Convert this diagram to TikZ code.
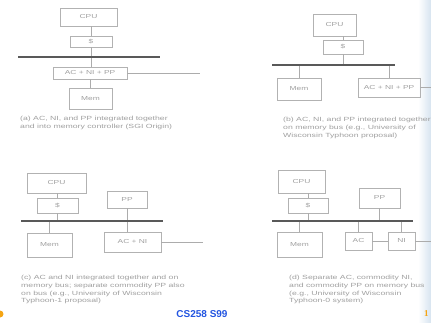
\documentclass[tikz,border=0pt]{standalone}
\usepackage{fontspec}
\setmainfont{Liberation Sans}
\newfontfamily\scanfont[FakeStretch=1.45]{Liberation Sans}
\newfontfamily\pagefont{Liberation Serif}
\usetikzlibrary{positioning,calc}
\definecolor{slideblue}{RGB}{35,85,225}
\definecolor{slideorange}{RGB}{245,165,20}
\definecolor{stripblue}{RGB}{215,228,240}

\begin{document}
\begin{tikzpicture}[x=1pt,y=-1pt,
  blk/.style={draw=gray!60,line width=0.6pt,text=gray!75,font=\scanfont\fontsize{5.8}{6.5}\selectfont,inner sep=0pt},
  wire/.style={draw=gray!65,line width=0.5pt},
  bus/.style={draw=gray!70!black,line width=1.5pt},
  captxt/.style={anchor=north west,align=left,text=gray!75,font=\scanfont\fontsize{6}{7.8}\selectfont,inner sep=0pt}]
\useasboundingbox (0,0) rectangle (431,323);
\shade[left color=white,right color=stripblue] (418,0) rectangle (431,323);

% (a) everything in the memory controller
\node[blk,minimum width=57,minimum height=18] (cpuA) at (88.5,17) {CPU};
\node[blk,minimum width=42,minimum height=11] (cacheA) at (91,41.5) {\$};
\node[blk,minimum width=74,minimum height=12] (acA) at (90,73) {AC + NI + PP};
\node[blk,minimum width=43,minimum height=21] (memA) at (90.5,98.5) {Mem};
\coordinate (busAw) at (18,57); \coordinate (busAe) at (160,57);
\coordinate (netA) at (200,73);
\draw[wire] (cacheA.north) -- (cacheA.north |- cpuA.south);
\draw[wire] (cacheA.south) -- (cacheA.south |- acA.north);
\draw[wire] (memA.north) -- (memA.north |- acA.south);
\draw[wire] (acA.east) -- (netA);
\draw[bus] (busAw) -- (busAe);
\node[captxt] (capA) at (20,116) {(a) AC, NI, and PP integrated together\\and into memory controller (SGI Origin)};

% (b) one board on the memory bus
\node[blk,minimum width=43,minimum height=22] (cpuB) at (334.5,25) {CPU};
\node[blk,minimum width=40,minimum height=14] (cacheB) at (343,47) {\$};
\node[blk,minimum width=44,minimum height=22] (memB) at (299,89) {Mem};
\node[blk,minimum width=62,minimum height=19] (acB) at (389,87.5) {AC + NI + PP};
\coordinate (busBw) at (272,65); \coordinate (busBe) at (395,65);
\coordinate (netB) at (431,87.5);
\draw[wire] (cacheB.north) -- (cacheB.north |- cpuB.south);
\draw[wire] (cacheB.south) -- (cacheB.south |- busBw);
\draw[wire] (memB.north) -- (memB.north |- busBw);
\draw[wire] (acB.north) -- (acB.north |- busBw);
\draw[wire] (acB.east) -- (netB);
\draw[bus] (busBw) -- (busBe);
\node[captxt] (capB) at (283,117) {(b) AC, NI, and PP integrated together\\on memory bus (e.g., University of\\Wisconsin Typhoon proposal)};

% (c) separate PP on the bus
\node[blk,minimum width=59,minimum height=20] (cpuC) at (56.5,183) {CPU};
\node[blk,minimum width=41,minimum height=15] (cacheC) at (57.5,205.5) {\$};
\node[blk,minimum width=40,minimum height=17] (ppC) at (127,199.5) {PP};
\node[blk,minimum width=45,minimum height=24] (memC) at (49.5,245) {Mem};
\node[blk,minimum width=57,minimum height=20] (acC) at (132.5,242) {AC + NI};
\coordinate (busCw) at (21,221); \coordinate (busCe) at (163,221);
\coordinate (netC) at (203,242);
\draw[wire] (cacheC.north) -- (cacheC.north |- cpuC.south);
\draw[wire] (cacheC.south) -- (cacheC.south |- busCw);
\draw[wire] (ppC.south) -- (ppC.south |- acC.north);
\draw[wire] (memC.north) -- (memC.north |- busCw);
\draw[wire] (acC.east) -- (netC);
\draw[bus] (busCw) -- (busCe);
\node[captxt] (capC) at (21,275) {(c) AC and NI integrated together and on\\memory bus; separate commodity PP also\\on bus (e.g., University of Wisconsin\\Typhoon-1 proposal)};

% (d) all separate
\node[blk,minimum width=47,minimum height=23] (cpuD) at (301.5,181.5) {CPU};
\node[blk,minimum width=40,minimum height=15] (cacheD) at (308,205.5) {\$};
\node[blk,minimum width=41,minimum height=20] (ppD) at (379.5,198) {PP};
\node[blk,minimum width=45,minimum height=25] (memD) at (299.5,244.5) {Mem};
\node[blk,minimum width=27,minimum height=18] (acD) at (358.5,241) {AC};
\node[blk,minimum width=27,minimum height=18] (niD) at (401.5,241) {NI};
\coordinate (busDw) at (272,221); \coordinate (busDe) at (413,221);
\coordinate (netD) at (431,241);
\draw[wire] (cacheD.north) -- (cacheD.north |- cpuD.south);
\draw[wire] (cacheD.south) -- (cacheD.south |- busDw);
\draw[wire] (ppD.south) -- (ppD.south |- busDw);
\foreach \n in {memD,acD,niD}
  \draw[wire] (\n.north) -- (\n.north |- busDw);
\draw[wire] (acD) -- (niD);
\draw[wire] (niD.east) -- (netD);
\draw[bus] (busDw) -- (busDe);
\node[captxt] (capD) at (289,275) {(d) Separate AC, commodity NI,\\and commodity PP on memory bus\\(e.g., University of Wisconsin\\Typhoon-0 system)};

% slide footer
\fill[slideorange] (0,314) circle (3.5);
\node[font=\bfseries\fontsize{10}{11}\selectfont,text=slideblue] (foot) at (202,314) {CS258 S99};
\node[anchor=west,inner sep=0pt,font=\pagefont\bfseries\fontsize{9}{10}\selectfont,text=slideorange] (pgnum) at (424,314) {1};
\end{tikzpicture}
\end{document}
